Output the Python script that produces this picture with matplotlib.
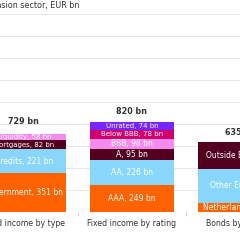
import numpy as np
import matplotlib.pyplot as plt

# Dutch pension sector, EUR bn
categories = ["Fixed income by type", "Fixed income by rating", "Bonds by country"]
totals = [729, 820, 635]

type_labels = ["Government, 351 bn", "Credits, 221 bn", "Mortgages, 82 bn", "Liquidity, 58 bn"]
type_values = [351, 221, 82, 58]

rating_labels = ["AAA, 249 bn", "AA, 226 bn", "A, 95 bn", "BBB, 98 bn",
                 "Below BBB, 78 bn", "Unrated, 74 bn"]
rating_values = [249, 226, 95, 98, 78, 74]

country_labels = ["Netherlands, 85 bn", "Other Eurozone", "Outside Eurozone"]
country_values = [85, 310, 240]

orange = "#FF6200"
sky = "#89D6FD"
maroon = "#52001E"
pink = "#F48CF0"
raspberry = "#D0006F"
violet = "#7724FF"

type_colors = [orange, sky, maroon, pink]
rating_colors = [orange, sky, maroon, pink, raspberry, violet]
country_colors = [orange, sky, maroon]

stacks = [
    (type_labels, type_values, type_colors),
    (rating_labels, rating_values, rating_colors),
    (country_labels, country_values, country_colors),
]

fig = plt.figure(figsize=(2.4, 2.4), dpi=100)
ax = fig.add_axes([0, 28 / 240, 1, 220 / 240])

width = 0.78
for i, (labels, values, colors) in enumerate(stacks):
    bottom = 0
    for lab, val, col in zip(labels, values, colors):
        ax.bar(i, val, width, bottom=bottom, color=col, zorder=2)
        fs = 5.0 if val < 84 else 5.5
        ax.text(i, bottom + val / 2, lab, ha="center", va="center",
                color="white", fontsize=fs, zorder=3)
        bottom += val
    ax.text(i, max(bottom, totals[i]) + 50, f"{totals[i]} bn", ha="center",
            va="bottom", fontsize=5.8, fontweight="bold", color="#333333")

ax.set_xlim(-0.22, 1.98)
ax.set_ylim(0, 2000)
ax.set_yticks(np.arange(200, 2001, 200))
ax.yaxis.grid(True, color="#e8e8e8", linewidth=0.7, zorder=0)
ax.set_yticklabels([])
ax.tick_params(axis="y", length=0)
ax.set_xticks(range(len(categories)))
ax.set_xticklabels(categories, fontsize=5.6, color="#333333")
ax.tick_params(axis="x", length=0, pad=5)
ax.set_xticks([0.5, 1.5], minor=True)
ax.tick_params(axis="x", which="minor", length=3, color="#cccccc", width=0.6)
for s in ax.spines.values():
    s.set_visible(False)

fig.text(79 / 240, 1 - 6 / 240, "Dutch pension sector, EUR bn", ha="right",
         va="center", fontsize=5.8, color="#333333")

fig.savefig("out.png", dpi=100)
